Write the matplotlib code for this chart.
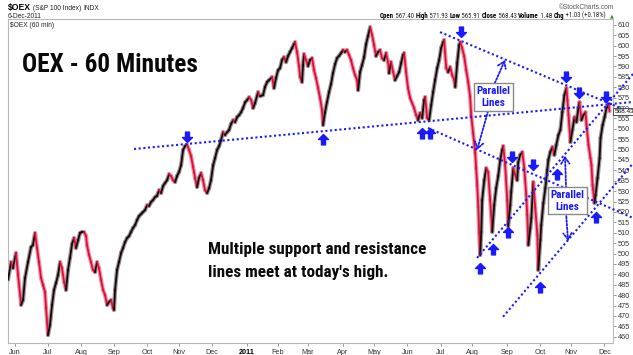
import numpy as np
import matplotlib
matplotlib.use("Agg")
import matplotlib.pyplot as plt
from matplotlib import font_manager
from matplotlib.collections import LineCollection
from matplotlib.path import Path
import matplotlib.transforms as mtransforms

# ---------------- data ----------------
# trading day index (weekdays since 2010-06-01) and close of $OEX (60-min chart, sampled)
day = [
    -4.6, -2.6, -1.3, 0.7, 2.1, 4.1, 5.4, 6.7, 8.7, 10.7, 12.0, 13.4, 14.7, 16.0, 17.4, 18.7, 20.0, 20.7, 22.0, 23.3,
    24.7, 26.0, 27.3, 28.7, 30.0, 31.3, 32.7, 34.0, 35.3, 36.6, 38.0, 39.3, 40.6, 42.0, 43.3, 44.6, 46.0, 47.3, 47.9, 49.3,
    50.6, 51.9, 53.3, 54.6, 55.9, 57.3, 58.6, 59.9, 61.3, 62.6, 63.9, 65.2, 65.9, 66.6, 67.9, 69.2, 70.6, 71.9, 73.2, 74.6,
    75.9, 77.2, 78.5, 79.9, 81.2, 82.5, 83.9, 85.2, 86.5, 87.9, 89.2, 90.5, 91.8, 93.2,
    94.5, 95.8, 97.2, 98.5, 99.8, 101.2, 102.5, 103.8, 105.1, 106.5, 107.8, 109.1, 110.5, 111.8, 113.1, 114.5, 115.8,
    117.1, 118.5, 119.8, 121.1, 122.4, 123.8, 125.1, 126.4, 127.8, 129.1, 130.4, 131.8, 133.1, 134.4, 135.8, 137.1, 138.4,
    139.7, 141.1, 142.4, 143.7, 145.1, 146.4, 147.7, 149.1, 150.4, 151.7, 153.1, 154.4, 155.7,
    157.1, 158.4, 159.7, 161.7, 163.0, 165.0, 166.3, 167.7, 169.0, 171.0, 172.3, 173.6, 175.0, 176.3, 177.6, 178.9, 180.3,
    181.6, 182.9, 184.3, 185.6, 186.3, 187.6, 188.9, 189.6, 190.9, 191.6, 192.2, 193.6, 194.9, 196.2, 197.6, 198.9, 200.2,
    201.6, 202.9, 204.2, 204.9, 206.2, 207.5, 208.9, 210.2, 211.5, 212.9, 214.2, 215.5, 216.9, 218.2, 219.5, 220.8, 222.2,
    223.5, 224.8, 226.2, 227.5, 228.2, 229.5, 230.8, 232.2, 233.5, 234.8, 236.2,
    237.5, 238.8, 240.1, 241.5, 242.8, 244.1, 245.5, 246.8, 248.1, 248.8, 250.1, 251.5, 252.8, 254.1, 255.5, 256.8, 258.1,
    258.8, 260.1, 261.4, 262.8, 264.1, 265.4, 266.8, 268.1, 269.4, 270.8, 272.1, 272.8, 274.1, 275.4, 276.8, 278.1, 279.4,
    280.8, 282.1, 283.4, 284.8, 285.4, 286.8, 288.1, 289.4, 290.8, 292.1, 292.8, 294.1, 295.4, 296.1, 297.4, 298.7, 300.1,
    301.4, 302.7, 303.4, 304.7, 306.1, 306.7, 307.4, 308.1, 308.7, 309.4, 310.1, 310.7, 312.1, 313.4,
    314.7, 316.0, 317.4, 318.7, 320.0, 321.4, 322.7, 324.0, 324.7, 326.0, 327.4, 328.0, 329.4, 330.0, 331.4, 332.7, 334.0,
    334.7, 336.0, 337.4, 338.7, 340.0, 340.7, 341.4, 342.7, 343.4, 344.7, 346.0, 347.4, 348.0, 349.4, 350.0, 351.4, 352.7,
    354.0, 354.7, 356.0, 357.4, 358.7, 360.0, 361.4, 362.7, 364.0, 365.4, 366.7, 367.4, 368.1, 369.4, 370.7, 372.1, 373.4,
    374.7, 375.4, 376.7, 378.1, 379.4, 380.1, 381.4, 382.7, 383.4, 384.1, 385.4, 386.1, 387.4, 388.8, 389.4, 390.8, 392.1,
    393.4, 394.8, 395.4,
]
close = [
    487.3, 495.9, 493.0, 500.3, 489.7, 475.3, 477.7, 488.2, 495.9, 503.1, 504.1, 509.9, 502.7, 495.9, 488.2, 484.9, 481.5, 473.8, 460.8, 465.6,
    475.3, 482.5, 485.8, 489.7, 495.9, 493.0, 486.3, 482.5, 492.1, 497.9, 504.6, 507.5, 502.7, 506.5, 509.9, 510.4, 510.4, 508.4, 504.1, 499.3,
    495.9, 492.1, 491.1, 495.9, 493.0, 487.3, 482.5, 480.1, 475.3, 476.7, 477.7, 473.8, 472.9, 482.5, 492.1, 495.9, 500.3, 502.7, 505.5, 507.5,
    508.4, 510.4, 512.3, 513.7, 516.1, 518.0, 519.0, 520.0, 520.9, 523.3, 522.9, 524.8, 525.7, 527.2,
    527.7, 530.5, 529.1, 532.5, 533.9, 535.3, 538.2, 537.3, 535.3, 534.4, 537.3, 539.2, 542.5, 549.8, 551.7, 552.2, 549.8,
    546.9, 541.6, 536.3, 532.0, 536.3, 538.7, 535.3, 530.5, 529.1, 531.5, 535.3, 542.5, 545.9, 549.8, 551.7, 554.6, 558.4,
    557.0, 558.4, 559.4, 562.3, 564.2, 563.2, 565.6, 566.6, 568.0, 570.0, 572.8, 573.8, 575.2,
    573.8, 570.0, 572.4, 577.7, 575.7, 576.2, 580.1, 582.5, 583.4, 584.9, 579.6, 584.4, 588.2, 589.2, 593.0, 594.5, 592.1,
    595.0, 596.9, 598.8, 600.7, 601.7, 596.9, 590.2, 584.9, 582.5, 590.6, 595.9, 593.0, 590.2, 593.0, 594.0, 588.2, 584.4,
    579.6, 574.8, 569.0, 561.8, 568.0, 572.8, 577.7, 581.5, 586.8, 591.1, 594.0, 595.0, 596.4, 597.9, 596.9, 597.9, 595.5,
    593.0, 589.2, 585.8, 583.4, 578.6, 587.3, 590.6, 594.5, 600.7, 604.6, 608.9,
    605.1, 600.3, 595.0, 596.9, 597.9, 594.0, 593.0, 596.4, 592.1, 586.8, 592.1, 587.3, 583.4, 585.3, 587.3, 591.6, 595.5,
    596.4, 587.3, 579.6, 574.8, 572.4, 570.0, 566.6, 564.2, 567.6, 565.2, 573.8, 575.3, 565.2, 564.2, 571.4, 577.7, 583.4,
    589.2, 593.0, 598.8, 601.7, 602.7, 589.2, 587.3, 589.7, 585.8, 583.4, 580.1, 591.6, 600.3, 601.7, 598.8, 595.0, 588.2,
    582.5, 575.3, 566.6, 557.9, 548.3, 541.1, 532.9, 522.4, 509.9, 499.3, 510.4, 525.7, 535.3, 541.1,
    539.2, 525.7, 510.4, 523.3, 531.5, 537.3, 545.0, 549.8, 551.7, 542.5, 525.7, 513.2, 523.3, 529.6, 541.1, 537.7, 535.3,
    544.0, 547.4, 548.8, 541.1, 528.1, 518.5, 504.1, 512.3, 517.1, 534.4, 521.9, 508.9, 492.1, 506.5, 513.7, 524.3, 531.5,
    540.2, 545.0, 548.8, 551.2, 547.4, 552.2, 557.0, 559.4, 568.0, 576.2, 579.6, 573.8, 566.6, 553.6, 559.4, 565.6, 563.2,
    570.0, 572.8, 564.2, 566.6, 568.0, 561.8, 552.2, 545.9, 542.5, 532.9, 524.3, 528.1, 536.3, 545.9, 555.5, 561.8, 565.6,
    570.0, 571.4, 568.4,
]

month_starts = ["2010-06-01", "2010-07-01", "2010-08-01", "2010-09-01", "2010-10-01", "2010-11-01", "2010-12-01",
                "2011-01-01", "2011-02-01", "2011-03-01", "2011-04-01", "2011-05-01", "2011-06-01", "2011-07-01",
                "2011-08-01", "2011-09-01", "2011-10-01", "2011-11-01", "2011-12-01"]
month_labels = ["Jun", "Jul", "Aug", "Sep", "Oct", "Nov", "Dec", "2011", "Feb", "Mar", "Apr", "May", "Jun", "Jul",
                "Aug", "Sep", "Oct", "Nov", "Dec"]
price_ticks = list(range(460, 611, 5))

# trendlines: (start day, start price, end day, end price)
trend_start_day = [79.2, 282.7, 274.7, 307.3, 324.6]
trend_start_price = [550.3, 606.5, 560.4, 497.9, 469.6]
trend_end_day = [411.0, 411.0, 411.0, 411.0, 411.0]
trend_end_price = [572.9, 567.4, 517.1, 586.4, 543.4]

# marker arrows: down arrows above peaks, up arrows below lows (tip positions)
down_day = [114.5, 296.7, 330.6, 344.2, 366.5, 375.2, 393.1]
down_price = [553.6, 604.1, 544.0, 540.2, 582.5, 574.8, 572.9]
up_day = [204.9, 270.9, 275.7, 309.0, 318.0, 327.6, 348.9, 360.5, 386.4]
up_price = [557.5, 560.4, 560.4, 495.4, 504.6, 512.8, 486.3, 540.6, 520.0]

# "Parallel Lines" callouts: box centre and pointer arrows (tail -> tip)
callout_day = [318.2, 367.5]
callout_price = [575.3, 525.5]
pointer_tail_day = [319.1, 314.6, 366.5, 366.5]
pointer_tail_price = [582.0, 568.5, 531.5, 519.5]
pointer_tip_day = [325.9, 307.3, 365.8, 367.8]
pointer_tip_price = [593.1, 549.8, 547.0, 506.0]

last_close = 568.43
quote = [("Open", "567.40"), ("High", "571.93"), ("Low", "565.91"), ("Close", "568.43"),
         ("Volume", "1.4B"), ("Chg", "+1.03 (+0.18%)")]

# ---------------- fonts ----------------
names = {f.name for f in font_manager.fontManager.ttflist}
if "Liberation Sans Narrow" in names:
    NARROW, NSCALE = "Liberation Sans Narrow", 1.0
elif "Roboto Condensed" in names:
    NARROW, NSCALE = "Roboto Condensed", 1.0
else:
    NARROW, NSCALE = "Liberation Sans", 0.84
SMALL = "Liberation Sans" if "Liberation Sans" in names else "DejaVu Sans"

# ---------------- figure ----------------
W, H = 633, 355
fig = plt.figure(figsize=(W / 100, H / 100), dpi=100)
fig.patch.set_facecolor("white")
ax = fig.add_axes([8 / W, 1 - 343 / H, (613 - 8) / W, (343 - 19) / H])
ax.set_xlim(-4.6, 397.7)
ax.set_ylim(457.0, 612.8)

BLUE = "#1a1aff"
UPC, DNC = "#1a0808", "#d8103a"

x = np.array(day)
y = np.array(close)
segs = np.stack([np.column_stack([x[:-1], y[:-1]]), np.column_stack([x[1:], y[1:]])], axis=1)
upmask = y[1:] >= y[:-1]
halo_cols = np.where(upmask[:, None], np.array([[0.55, 0.52, 0.53, 0.85]]), np.array([[0.95, 0.55, 0.64, 0.9]]))
ax.add_collection(LineCollection(segs, colors=halo_cols, linewidths=3.0, capstyle="round", zorder=2))
main_cols = [UPC if u else DNC for u in upmask]
ax.add_collection(LineCollection(segs, colors=main_cols, linewidths=1.3, capstyle="round", zorder=3))

# trendlines
for sd, sp, ed, ep in zip(trend_start_day, trend_start_price, trend_end_day, trend_end_price):
    ax.plot([sd, ed], [sp, ep], color=BLUE, lw=1.5, linestyle=(0, (1.0, 1.25)), clip_on=False, zorder=5,
            solid_capstyle="butt", dash_capstyle="butt")

# block arrows with tip at (0,0)
up_path = Path([(0, 0), (0.5, -0.5), (0.2, -0.5), (0.2, -1.05), (-0.2, -1.05), (-0.2, -0.5), (-0.5, -0.5), (0, 0)],
               [Path.MOVETO] + [Path.LINETO] * 6 + [Path.CLOSEPOLY])
down_path = Path([(vx, -vy) for vx, vy in up_path.vertices], up_path.codes)
ax.plot(up_day, up_price, linestyle="none", marker=up_path, markersize=15, color=BLUE, mec=BLUE, zorder=6,
        clip_on=False)
ax.plot(down_day, down_price, linestyle="none", marker=down_path, markersize=15, color=BLUE, mec=BLUE, zorder=6,
        clip_on=False)

# callouts
for cd, cp in zip(callout_day, callout_price):
    ax.text(cd, cp, "Parallel\nLines", color=BLUE, fontsize=8.0 * NSCALE, family=NARROW, fontweight="bold",
            ha="center", va="center", linespacing=1.25, zorder=8,
            bbox=dict(boxstyle="square,pad=0.25", fc="white", ec="#8a8a8a", lw=1.0))
for td, tp, hd, hp in zip(pointer_tail_day, pointer_tail_price, pointer_tip_day, pointer_tip_price):
    ax.annotate("", xy=(hd, hp), xytext=(td, tp), zorder=7,
                arrowprops=dict(arrowstyle="->,head_length=0.45,head_width=0.3", color=BLUE, lw=1.3,
                                linestyle=(0, (1.0, 1.0)), shrinkA=0, shrinkB=0))

# axes styling
for s in ax.spines.values():
    s.set_color("#b8b8b8")
    s.set_linewidth(0.8)
ax.yaxis.tick_right()
ax.set_yticks(price_ticks)
ax.set_yticklabels([str(v) for v in price_ticks])
ax.tick_params(axis="y", length=2, width=0.6, color="#888888", labelsize=5.2, pad=1.5, labelcolor="#333333")
for lab in ax.get_yticklabels():
    lab.set_family(SMALL)
mpos = np.busday_count("2010-06-01", month_starts)
ax.set_xticks(mpos)
ax.set_xticklabels(month_labels)
ax.tick_params(axis="x", length=2, width=0.6, color="#888888", labelsize=5.2, pad=2, labelcolor="#333333")
for lab in ax.get_xticklabels():
    lab.set_family(SMALL)
    if lab.get_text() == "2011":
        lab.set_fontweight("bold")
        lab.set_color("#000000")

# last price box on the axis
ax.text(1.002, last_close, f"{last_close:.2f}", transform=mtransforms.blended_transform_factory(ax.transAxes, ax.transData),
        fontsize=4.6, family=SMALL, va="center", ha="left", zorder=9, clip_on=False,
        bbox=dict(boxstyle="square,pad=0.12", fc="white", ec="#333333", lw=0.6))

# ---------------- texts ----------------
def fx(px):
    return px / W


def fy(py):
    return 1 - py / H


fig.text(fx(22), fy(72), "OEX - 60 Minutes", family=NARROW, fontweight="bold", fontsize=18.2 * NSCALE,
         color="#0a0a0a", va="baseline", ha="left")
fig.text(fx(208), fy(254), "Multiple support and resistance", family=NARROW, fontweight="bold",
         fontsize=12.3 * NSCALE, color="#0a0a0a", va="baseline", ha="left")
fig.text(fx(208), fy(277), "lines meet at today's high.", family=NARROW, fontweight="bold",
         fontsize=12.3 * NSCALE, color="#0a0a0a", va="baseline", ha="left")

renderer = fig.canvas.get_renderer()


def seq(x0, ybase, parts):
    xx = x0
    for s, kw in parts:
        t = fig.text(fx(xx), fy(ybase), s, va="baseline", ha="left", **kw)
        xx += t.get_window_extent(renderer=renderer).width
    return xx


def seq_width(parts):
    tot = 0
    for s, kw in parts:
        t = fig.text(0, 0, s, **kw)
        tot += t.get_window_extent(renderer=renderer).width
        t.remove()
    return tot


seq(8, 10, [("$OEX", dict(family=SMALL, fontweight="bold", fontsize=6.2, color="#000")),
            (" (S&P 100 Index) ", dict(family=SMALL, fontsize=4.8, color="#222")),
            ("INDX", dict(family=SMALL, fontsize=4.8, color="#222"))])
fig.text(fx(8), fy(18), "6-Dec-2011", family=SMALL, fontsize=4.8, color="#222", va="baseline")
fig.text(fx(10), fy(27), "$OEX (60 min)", family=SMALL, fontsize=4.8, color="#222", va="baseline")
fig.text(fx(614), fy(9), "\u00a9StockCharts.com", family=SMALL, fontsize=4.8, color="#555", va="baseline", ha="right")


def quote_parts(fs):
    parts = []
    for i, (lab, val) in enumerate(quote):
        parts.append((lab, dict(family=NARROW, fontweight="bold", fontsize=fs, color="#000")))
        parts.append((" " + val + ("" if i == len(quote) - 1 else " "), dict(family=NARROW, fontsize=fs, color="#222")))
    return parts


fs0 = 5.6
wq = seq_width(quote_parts(fs0))
fsq = fs0 * (227.0 / wq)
seq(380, 17.5, quote_parts(fsq))
fig.text(fx(609.5), fy(17.5), "\u25b2", family="DejaVu Sans", fontsize=3.6, color="#1d9a1d", va="baseline")

fig.savefig("out.png", dpi=100, facecolor="white")
